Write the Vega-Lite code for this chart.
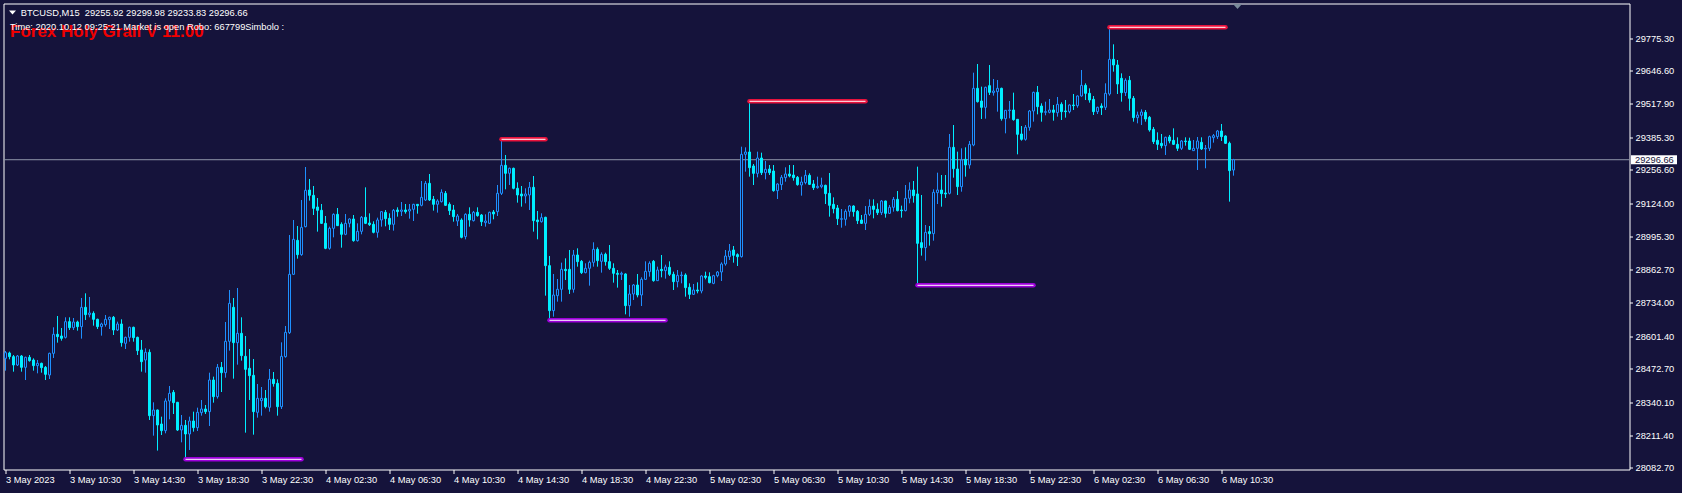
{
"$schema": "https://vega.github.io/schema/vega-lite/v6.json",
"autosize": {"type": "none"},
"padding": {"left": 3.5, "top": 3.5, "right": 52.5, "bottom": 23.5},
"width": 1626,
"height": 466,
"background": "#15133B",
"config": {"view": {"stroke": "#FFFFFF", "strokeWidth": 1, "fill": "#15133B"}, "font": "Liberation Sans", "scale": {"continuousPadding": 0}},
"resolve": {"axis": {"x": "independent", "y": "independent"}},
"datasets": {
"bars": [
{"t":"2023-05-03T06:30Z","o":28513.8,"h":28542.7,"l":28465.1,"c":28536.1},
{"t":"2023-05-03T06:45Z","o":28534.8,"h":28540.0,"l":28509.8,"c":28520.3},
{"t":"2023-05-03T07:00Z","o":28520.3,"h":28526.9,"l":28461.2,"c":28487.5},
{"t":"2023-05-03T07:15Z","o":28487.5,"h":28526.9,"l":28483.5,"c":28522.9},
{"t":"2023-05-03T07:30Z","o":28522.9,"h":28526.9,"l":28461.2,"c":28478.3},
{"t":"2023-05-03T07:45Z","o":28478.3,"h":28520.3,"l":28428.3,"c":28517.7},
{"t":"2023-05-03T08:00Z","o":28517.7,"h":28526.9,"l":28500.6,"c":28504.6},
{"t":"2023-05-03T08:15Z","o":28507.2,"h":28513.7,"l":28465.1,"c":28484.8},
{"t":"2023-05-03T08:30Z","o":28484.8,"h":28507.2,"l":28454.6,"c":28494.0},
{"t":"2023-05-03T08:45Z","o":28494.0,"h":28496.7,"l":28457.2,"c":28477.0},
{"t":"2023-05-03T09:00Z","o":28478.3,"h":28483.5,"l":28428.3,"c":28450.7},
{"t":"2023-05-03T09:15Z","o":28448.0,"h":28536.1,"l":28432.3,"c":28533.5},
{"t":"2023-05-03T09:30Z","o":28533.5,"h":28636.0,"l":28515.1,"c":28608.4},
{"t":"2023-05-03T09:45Z","o":28608.4,"h":28680.6,"l":28575.5,"c":28599.2},
{"t":"2023-05-03T10:00Z","o":28601.8,"h":28633.3,"l":28583.4,"c":28592.6},
{"t":"2023-05-03T10:15Z","o":28596.5,"h":28675.4,"l":28592.0,"c":28658.3},
{"t":"2023-05-03T10:30Z","o":28658.3,"h":28675.4,"l":28625.4,"c":28634.6},
{"t":"2023-05-03T10:45Z","o":28634.6,"h":28672.7,"l":28625.4,"c":28657.0},
{"t":"2023-05-03T11:00Z","o":28657.0,"h":28662.2,"l":28622.8,"c":28638.6},
{"t":"2023-05-03T11:15Z","o":28638.6,"h":28751.6,"l":28591.3,"c":28714.8},
{"t":"2023-05-03T11:30Z","o":28714.8,"h":28770.0,"l":28664.9,"c":28685.9},
{"t":"2023-05-03T11:45Z","o":28685.9,"h":28755.5,"l":28675.4,"c":28692.5},
{"t":"2023-05-03T12:00Z","o":28691.1,"h":28699.0,"l":28642.5,"c":28667.5},
{"t":"2023-05-03T12:15Z","o":28667.5,"h":28670.1,"l":28629.4,"c":28638.6},
{"t":"2023-05-03T12:30Z","o":28638.6,"h":28654.3,"l":28603.1,"c":28649.1},
{"t":"2023-05-03T12:45Z","o":28646.5,"h":28684.6,"l":28638.6,"c":28667.5},
{"t":"2023-05-03T13:00Z","o":28666.2,"h":28678.0,"l":28629.4,"c":28675.4},
{"t":"2023-05-03T13:15Z","o":28675.4,"h":28680.6,"l":28605.7,"c":28625.4},
{"t":"2023-05-03T13:30Z","o":28625.4,"h":28658.3,"l":28621.5,"c":28649.1},
{"t":"2023-05-03T13:45Z","o":28649.1,"h":28667.5,"l":28559.7,"c":28575.5},
{"t":"2023-05-03T14:00Z","o":28572.9,"h":28599.2,"l":28550.5,"c":28596.5},
{"t":"2023-05-03T14:15Z","o":28596.5,"h":28638.6,"l":28579.4,"c":28636.0},
{"t":"2023-05-03T14:30Z","o":28636.0,"h":28638.6,"l":28579.4,"c":28595.2},
{"t":"2023-05-03T14:45Z","o":28596.5,"h":28599.2,"l":28526.9,"c":28544.0},
{"t":"2023-05-03T15:00Z","o":28546.6,"h":28586.0,"l":28461.2,"c":28500.6},
{"t":"2023-05-03T15:15Z","o":28507.2,"h":28553.2,"l":28457.2,"c":28537.4},
{"t":"2023-05-03T15:30Z","o":28537.4,"h":28549.2,"l":28270.7,"c":28287.7},
{"t":"2023-05-03T15:45Z","o":28287.7,"h":28340.3,"l":28208.9,"c":28310.1},
{"t":"2023-05-03T16:00Z","o":28310.1,"h":28312.0,"l":28150.0,"c":28250.9},
{"t":"2023-05-03T16:15Z","o":28254.9,"h":28283.8,"l":28211.5,"c":28228.6},
{"t":"2023-05-03T16:30Z","o":28228.6,"h":28356.1,"l":28218.1,"c":28345.6},
{"t":"2023-05-03T16:45Z","o":28345.6,"h":28404.7,"l":28273.3,"c":28375.8},
{"t":"2023-05-03T17:00Z","o":28379.7,"h":28388.9,"l":28294.3,"c":28339.0},
{"t":"2023-05-03T17:15Z","o":28340.3,"h":28342.0,"l":28227.3,"c":28231.2},
{"t":"2023-05-03T17:30Z","o":28231.2,"h":28290.4,"l":28182.6,"c":28249.6},
{"t":"2023-05-03T17:45Z","o":28249.6,"h":28270.7,"l":28115.7,"c":28215.5},
{"t":"2023-05-03T18:00Z","o":28215.5,"h":28283.8,"l":28152.4,"c":28266.7},
{"t":"2023-05-03T18:15Z","o":28266.7,"h":28303.5,"l":28224.7,"c":28240.4},
{"t":"2023-05-03T18:30Z","o":28240.4,"h":28319.3,"l":28227.3,"c":28300.9},
{"t":"2023-05-03T18:45Z","o":28299.6,"h":28349.5,"l":28287.7,"c":28314.0},
{"t":"2023-05-03T19:00Z","o":28314.0,"h":28329.8,"l":28294.3,"c":28303.5},
{"t":"2023-05-03T19:15Z","o":28303.5,"h":28457.2,"l":28247.0,"c":28428.3},
{"t":"2023-05-03T19:30Z","o":28428.3,"h":28441.5,"l":28339.0,"c":28362.6},
{"t":"2023-05-03T19:45Z","o":28362.6,"h":28491.4,"l":28355.0,"c":28478.3},
{"t":"2023-05-03T20:00Z","o":28478.3,"h":28499.3,"l":28381.0,"c":28457.2},
{"t":"2023-05-03T20:15Z","o":28457.2,"h":28657.0,"l":28437.5,"c":28580.8},
{"t":"2023-05-03T20:30Z","o":28580.8,"h":28783.1,"l":28544.0,"c":28730.6},
{"t":"2023-05-03T20:45Z","o":28714.8,"h":28751.6,"l":28433.6,"c":28575.5},
{"t":"2023-05-03T21:00Z","o":28575.5,"h":28791.0,"l":28488.8,"c":28612.3},
{"t":"2023-05-03T21:15Z","o":28612.3,"h":28675.4,"l":28504.6,"c":28524.3},
{"t":"2023-05-03T21:30Z","o":28521.6,"h":28601.8,"l":28220.7,"c":28470.4},
{"t":"2023-05-03T21:45Z","o":28474.3,"h":28550.5,"l":28349.5,"c":28445.4},
{"t":"2023-05-03T22:00Z","o":28446.7,"h":28511.1,"l":28212.8,"c":28303.5},
{"t":"2023-05-03T22:15Z","o":28300.9,"h":28412.6,"l":28279.9,"c":28356.1},
{"t":"2023-05-03T22:30Z","o":28346.9,"h":28400.7,"l":28287.7,"c":28356.1},
{"t":"2023-05-03T22:45Z","o":28356.1,"h":28388.9,"l":28316.6,"c":28323.2},
{"t":"2023-05-03T23:00Z","o":28320.6,"h":28471.7,"l":28303.5,"c":28431.0},
{"t":"2023-05-03T23:15Z","o":28431.0,"h":28459.9,"l":28402.1,"c":28413.9},
{"t":"2023-05-03T23:30Z","o":28415.2,"h":28431.0,"l":28287.7,"c":28323.2},
{"t":"2023-05-03T23:45Z","o":28323.2,"h":28576.8,"l":28314.0,"c":28521.6},
{"t":"2023-05-04T00:00Z","o":28520.3,"h":28641.2,"l":28516.4,"c":28616.2},
{"t":"2023-05-04T00:15Z","o":28614.9,"h":28999.9,"l":28609.7,"c":28844.9},
{"t":"2023-05-04T00:30Z","o":28844.9,"h":29059.1,"l":28843.6,"c":28982.8},
{"t":"2023-05-04T00:45Z","o":28978.9,"h":29035.4,"l":28906.6,"c":28922.4},
{"t":"2023-05-04T01:00Z","o":28922.4,"h":29137.9,"l":28918.0,"c":29030.1},
{"t":"2023-05-04T01:15Z","o":29032.8,"h":29268.0,"l":29030.0,"c":29176.0},
{"t":"2023-05-04T01:30Z","o":29177.3,"h":29220.7,"l":29135.3,"c":29156.3},
{"t":"2023-05-04T01:45Z","o":29156.3,"h":29193.1,"l":29078.8,"c":29105.0},
{"t":"2023-05-04T02:00Z","o":29110.3,"h":29145.8,"l":29013.1,"c":29097.2},
{"t":"2023-05-04T02:15Z","o":29097.2,"h":29122.1,"l":29043.3,"c":29045.9},
{"t":"2023-05-04T02:30Z","o":29045.9,"h":29074.8,"l":28944.0,"c":28947.4},
{"t":"2023-05-04T02:45Z","o":28947.4,"h":29032.8,"l":28942.1,"c":29026.2},
{"t":"2023-05-04T03:00Z","o":29026.2,"h":29085.3,"l":28990.7,"c":29081.4},
{"t":"2023-05-04T03:15Z","o":29081.4,"h":29106.4,"l":29035.4,"c":29036.7},
{"t":"2023-05-04T03:30Z","o":29042.0,"h":29049.9,"l":28950.0,"c":29002.6},
{"t":"2023-05-04T03:45Z","o":29002.6,"h":29082.7,"l":28999.0,"c":29045.9},
{"t":"2023-05-04T04:00Z","o":29045.9,"h":29065.6,"l":29030.1,"c":29063.0},
{"t":"2023-05-04T04:15Z","o":29063.0,"h":29078.8,"l":28973.6,"c":28977.6},
{"t":"2023-05-04T04:30Z","o":28977.6,"h":29045.9,"l":28974.0,"c":29014.4},
{"t":"2023-05-04T04:45Z","o":29014.4,"h":29074.8,"l":29002.6,"c":29069.6},
{"t":"2023-05-04T05:00Z","o":29069.6,"h":29187.8,"l":29043.0,"c":29045.9},
{"t":"2023-05-04T05:15Z","o":29047.2,"h":29085.3,"l":29035.4,"c":29040.7},
{"t":"2023-05-04T05:30Z","o":29042.0,"h":29053.8,"l":29006.5,"c":29010.4},
{"t":"2023-05-04T05:45Z","o":29010.4,"h":29068.3,"l":28989.4,"c":29059.1},
{"t":"2023-05-04T06:00Z","o":29059.1,"h":29094.5,"l":29032.8,"c":29091.9},
{"t":"2023-05-04T06:15Z","o":29089.3,"h":29098.5,"l":29034.1,"c":29064.3},
{"t":"2023-05-04T06:30Z","o":29065.6,"h":29085.3,"l":29019.6,"c":29042.0},
{"t":"2023-05-04T06:45Z","o":29042.0,"h":29102.4,"l":29017.0,"c":29097.2},
{"t":"2023-05-04T07:00Z","o":29098.5,"h":29109.0,"l":29072.2,"c":29091.9},
{"t":"2023-05-04T07:15Z","o":29093.2,"h":29130.0,"l":29074.8,"c":29098.5},
{"t":"2023-05-04T07:30Z","o":29098.5,"h":29122.1,"l":29084.0,"c":29091.9},
{"t":"2023-05-04T07:45Z","o":29094.5,"h":29122.1,"l":29064.3,"c":29101.1},
{"t":"2023-05-04T08:00Z","o":29101.1,"h":29123.0,"l":29055.1,"c":29120.8},
{"t":"2023-05-04T08:15Z","o":29120.8,"h":29122.1,"l":29084.0,"c":29115.6},
{"t":"2023-05-04T08:30Z","o":29116.9,"h":29212.8,"l":29113.0,"c":29148.4},
{"t":"2023-05-04T08:45Z","o":29137.9,"h":29212.8,"l":29134.0,"c":29203.6},
{"t":"2023-05-04T09:00Z","o":29203.6,"h":29240.4,"l":29134.0,"c":29137.9},
{"t":"2023-05-04T09:15Z","o":29140.6,"h":29153.7,"l":29095.9,"c":29120.9},
{"t":"2023-05-04T09:30Z","o":29120.9,"h":29140.6,"l":29088.0,"c":29134.0},
{"t":"2023-05-04T09:45Z","o":29131.4,"h":29180.0,"l":29128.0,"c":29168.2},
{"t":"2023-05-04T10:00Z","o":29164.2,"h":29173.4,"l":29114.3,"c":29116.9},
{"t":"2023-05-04T10:15Z","o":29120.9,"h":29128.7,"l":29078.8,"c":29095.9},
{"t":"2023-05-04T10:30Z","o":29098.5,"h":29118.2,"l":29052.5,"c":29072.2},
{"t":"2023-05-04T10:45Z","o":29055.2,"h":29082.8,"l":29035.4,"c":29074.9},
{"t":"2023-05-04T11:00Z","o":29059.1,"h":29065.7,"l":28986.8,"c":28990.8},
{"t":"2023-05-04T11:15Z","o":28993.4,"h":29085.4,"l":28982.9,"c":29081.4},
{"t":"2023-05-04T11:30Z","o":29081.4,"h":29109.0,"l":29032.8,"c":29059.1},
{"t":"2023-05-04T11:45Z","o":29056.5,"h":29094.6,"l":29053.0,"c":29089.3},
{"t":"2023-05-04T12:00Z","o":29089.3,"h":29109.0,"l":29072.2,"c":29076.2},
{"t":"2023-05-04T12:15Z","o":29078.8,"h":29082.8,"l":29035.4,"c":29052.5},
{"t":"2023-05-04T12:30Z","o":29048.6,"h":29081.4,"l":29032.8,"c":29055.2},
{"t":"2023-05-04T12:45Z","o":29046.0,"h":29092.0,"l":29043.0,"c":29089.3},
{"t":"2023-05-04T13:00Z","o":29090.6,"h":29098.5,"l":29061.7,"c":29082.8},
{"t":"2023-05-04T13:15Z","o":29091.9,"h":29197.1,"l":29074.9,"c":29164.2},
{"t":"2023-05-04T13:30Z","o":29164.2,"h":29377.2,"l":29157.6,"c":29274.6},
{"t":"2023-05-04T13:45Z","o":29274.6,"h":29315.3,"l":29180.0,"c":29243.1},
{"t":"2023-05-04T14:00Z","o":29243.1,"h":29265.4,"l":29197.1,"c":29262.8},
{"t":"2023-05-04T14:15Z","o":29262.8,"h":29265.4,"l":29180.0,"c":29183.9},
{"t":"2023-05-04T14:30Z","o":29183.9,"h":29207.6,"l":29127.4,"c":29157.6},
{"t":"2023-05-04T14:45Z","o":29161.6,"h":29193.1,"l":29111.7,"c":29153.7},
{"t":"2023-05-04T15:00Z","o":29153.7,"h":29183.9,"l":29124.8,"c":29161.6},
{"t":"2023-05-04T15:15Z","o":29157.6,"h":29208.9,"l":29098.5,"c":29187.9},
{"t":"2023-05-04T15:30Z","o":29187.9,"h":29232.5,"l":29013.1,"c":29056.5},
{"t":"2023-05-04T15:45Z","o":29059.1,"h":29094.6,"l":28982.9,"c":29052.5},
{"t":"2023-05-04T16:00Z","o":29052.5,"h":29085.4,"l":29048.6,"c":29068.3},
{"t":"2023-05-04T16:15Z","o":29069.6,"h":29072.0,"l":28760.8,"c":28879.1},
{"t":"2023-05-04T16:30Z","o":28879.1,"h":28917.2,"l":28663.7,"c":28701.7},
{"t":"2023-05-04T16:45Z","o":28701.7,"h":28846.2,"l":28678.0,"c":28763.4},
{"t":"2023-05-04T17:00Z","o":28760.8,"h":28826.5,"l":28737.2,"c":28785.8},
{"t":"2023-05-04T17:15Z","o":28785.8,"h":28890.9,"l":28737.2,"c":28864.6},
{"t":"2023-05-04T17:30Z","o":28864.6,"h":28908.0,"l":28822.6,"c":28859.4},
{"t":"2023-05-04T17:45Z","o":28864.6,"h":28940.8,"l":28767.4,"c":28785.8},
{"t":"2023-05-04T18:00Z","o":28785.8,"h":28940.8,"l":28772.6,"c":28921.1},
{"t":"2023-05-04T18:15Z","o":28921.1,"h":28947.4,"l":28875.1,"c":28894.8},
{"t":"2023-05-04T18:30Z","o":28896.2,"h":28901.4,"l":28846.2,"c":28851.5},
{"t":"2023-05-04T18:45Z","o":28851.5,"h":28888.3,"l":28848.9,"c":28868.6},
{"t":"2023-05-04T19:00Z","o":28868.6,"h":28898.8,"l":28800.2,"c":28892.2},
{"t":"2023-05-04T19:15Z","o":28892.2,"h":28971.1,"l":28875.1,"c":28943.5},
{"t":"2023-05-04T19:30Z","o":28943.5,"h":28951.3,"l":28875.1,"c":28898.8},
{"t":"2023-05-04T19:45Z","o":28896.2,"h":28931.6,"l":28851.5,"c":28923.8},
{"t":"2023-05-04T20:00Z","o":28923.8,"h":28930.3,"l":28879.1,"c":28894.8},
{"t":"2023-05-04T20:15Z","o":28894.8,"h":28960.5,"l":28862.0,"c":28868.6},
{"t":"2023-05-04T20:30Z","o":28868.6,"h":28888.3,"l":28812.1,"c":28848.9},
{"t":"2023-05-04T20:45Z","o":28848.9,"h":28862.0,"l":28792.4,"c":28844.9},
{"t":"2023-05-04T21:00Z","o":28844.9,"h":28855.4,"l":28822.6,"c":28848.9},
{"t":"2023-05-04T21:15Z","o":28846.2,"h":28848.9,"l":28687.2,"c":28721.4},
{"t":"2023-05-04T21:30Z","o":28721.4,"h":28802.9,"l":28678.0,"c":28767.4},
{"t":"2023-05-04T21:45Z","o":28767.4,"h":28806.8,"l":28743.7,"c":28802.9},
{"t":"2023-05-04T22:00Z","o":28802.8,"h":28846.2,"l":28754.2,"c":28763.4},
{"t":"2023-05-04T22:15Z","o":28763.4,"h":28833.0,"l":28720.0,"c":28825.1},
{"t":"2023-05-04T22:30Z","o":28825.1,"h":28896.1,"l":28822.5,"c":28856.7},
{"t":"2023-05-04T22:45Z","o":28855.4,"h":28896.1,"l":28835.7,"c":28888.2},
{"t":"2023-05-04T23:00Z","o":28896.1,"h":28901.4,"l":28815.9,"c":28819.9},
{"t":"2023-05-04T23:15Z","o":28819.9,"h":28875.1,"l":28818.6,"c":28861.9},
{"t":"2023-05-04T23:30Z","o":28864.6,"h":28921.1,"l":28833.0,"c":28859.3},
{"t":"2023-05-04T23:45Z","o":28859.3,"h":28883.0,"l":28827.8,"c":28873.8},
{"t":"2023-05-05T00:00Z","o":28872.5,"h":28896.1,"l":28838.3,"c":28844.9},
{"t":"2023-05-05T00:15Z","o":28844.9,"h":28855.4,"l":28783.1,"c":28815.9},
{"t":"2023-05-05T00:30Z","o":28815.9,"h":28861.9,"l":28793.6,"c":28840.9},
{"t":"2023-05-05T00:45Z","o":28839.6,"h":28855.4,"l":28809.4,"c":28842.2},
{"t":"2023-05-05T01:00Z","o":28842.2,"h":28848.8,"l":28756.8,"c":28792.3},
{"t":"2023-05-05T01:15Z","o":28793.6,"h":28809.4,"l":28747.6,"c":28766.0},
{"t":"2023-05-05T01:30Z","o":28766.0,"h":28806.8,"l":28763.4,"c":28783.1},
{"t":"2023-05-05T01:45Z","o":28783.1,"h":28813.3,"l":28770.0,"c":28779.2},
{"t":"2023-05-05T02:00Z","o":28779.2,"h":28840.9,"l":28770.0,"c":28838.3},
{"t":"2023-05-05T02:15Z","o":28838.3,"h":28855.4,"l":28825.1,"c":28833.0},
{"t":"2023-05-05T02:30Z","o":28835.7,"h":28852.7,"l":28809.4,"c":28812.0},
{"t":"2023-05-05T02:45Z","o":28809.4,"h":28843.0,"l":28806.0,"c":28839.6},
{"t":"2023-05-05T03:00Z","o":28839.6,"h":28858.0,"l":28833.0,"c":28854.1},
{"t":"2023-05-05T03:15Z","o":28854.1,"h":28892.2,"l":28818.6,"c":28885.6},
{"t":"2023-05-05T03:30Z","o":28885.6,"h":28940.8,"l":28879.0,"c":28917.1},
{"t":"2023-05-05T03:45Z","o":28914.5,"h":28964.4,"l":28901.4,"c":28936.8},
{"t":"2023-05-05T04:00Z","o":28940.8,"h":28956.5,"l":28890.8,"c":28919.8},
{"t":"2023-05-05T04:15Z","o":28922.4,"h":28927.6,"l":28877.7,"c":28914.5},
{"t":"2023-05-05T04:30Z","o":28914.5,"h":29348.1,"l":28911.0,"c":29317.9},
{"t":"2023-05-05T04:45Z","o":29317.9,"h":29345.5,"l":29249.6,"c":29327.1},
{"t":"2023-05-05T05:00Z","o":29327.1,"h":29527.0,"l":29229.9,"c":29265.3},
{"t":"2023-05-05T05:15Z","o":29271.9,"h":29279.8,"l":29197.0,"c":29243.0},
{"t":"2023-05-05T05:30Z","o":29243.0,"h":29328.4,"l":29227.2,"c":29303.4},
{"t":"2023-05-05T05:45Z","o":29303.4,"h":29324.5,"l":29236.4,"c":29245.6},
{"t":"2023-05-05T06:00Z","o":29245.6,"h":29291.6,"l":29219.3,"c":29258.8},
{"t":"2023-05-05T06:15Z","o":29260.1,"h":29275.8,"l":29236.4,"c":29245.6},
{"t":"2023-05-05T06:30Z","o":29252.2,"h":29275.8,"l":29170.7,"c":29174.7},
{"t":"2023-05-05T06:45Z","o":29174.7,"h":29203.6,"l":29141.8,"c":29201.0},
{"t":"2023-05-05T07:00Z","o":29198.3,"h":29236.4,"l":29177.3,"c":29227.2},
{"t":"2023-05-05T07:15Z","o":29225.9,"h":29266.7,"l":29210.1,"c":29240.4},
{"t":"2023-05-05T07:30Z","o":29240.4,"h":29275.8,"l":29227.2,"c":29232.5},
{"t":"2023-05-05T07:45Z","o":29236.4,"h":29275.8,"l":29214.1,"c":29225.9},
{"t":"2023-05-05T08:00Z","o":29227.2,"h":29232.5,"l":29194.4,"c":29198.3},
{"t":"2023-05-05T08:15Z","o":29197.0,"h":29229.9,"l":29155.0,"c":29208.8},
{"t":"2023-05-05T08:30Z","o":29206.2,"h":29256.1,"l":29199.6,"c":29235.1},
{"t":"2023-05-05T08:45Z","o":29235.1,"h":29243.0,"l":29197.0,"c":29199.6},
{"t":"2023-05-05T09:00Z","o":29201.0,"h":29216.7,"l":29177.3,"c":29186.5},
{"t":"2023-05-05T09:15Z","o":29186.5,"h":29229.9,"l":29182.6,"c":29191.8},
{"t":"2023-05-05T09:30Z","o":29190.4,"h":29225.9,"l":29183.9,"c":29197.0},
{"t":"2023-05-05T09:45Z","o":29195.7,"h":29198.3,"l":29122.1,"c":29162.8},
{"t":"2023-05-05T10:00Z","o":29164.2,"h":29244.3,"l":29072.2,"c":29116.9},
{"t":"2023-05-05T10:15Z","o":29120.8,"h":29148.4,"l":29085.3,"c":29103.7},
{"t":"2023-05-05T10:30Z","o":29106.3,"h":29118.2,"l":29039.3,"c":29064.3},
{"t":"2023-05-05T10:45Z","o":29061.7,"h":29102.4,"l":29028.8,"c":29064.3},
{"t":"2023-05-05T11:00Z","o":29061.7,"h":29101.1,"l":29036.7,"c":29093.2},
{"t":"2023-05-05T11:15Z","o":29093.2,"h":29118.2,"l":29072.2,"c":29114.2},
{"t":"2023-05-05T11:30Z","o":29114.2,"h":29117.0,"l":29072.2,"c":29091.9},
{"t":"2023-05-05T11:45Z","o":29093.2,"h":29098.5,"l":29043.3,"c":29056.4},
{"t":"2023-05-05T12:00Z","o":29059.1,"h":29078.8,"l":29043.3,"c":29045.9},
{"t":"2023-05-05T12:15Z","o":29045.9,"h":29114.2,"l":29019.6,"c":29081.4},
{"t":"2023-05-05T12:30Z","o":29081.4,"h":29140.5,"l":29074.8,"c":29112.9},
{"t":"2023-05-05T12:45Z","o":29114.2,"h":29140.5,"l":29065.6,"c":29101.1},
{"t":"2023-05-05T13:00Z","o":29101.1,"h":29124.8,"l":29078.8,"c":29088.0},
{"t":"2023-05-05T13:15Z","o":29088.0,"h":29137.9,"l":29078.8,"c":29134.0},
{"t":"2023-05-05T13:30Z","o":29134.0,"h":29135.3,"l":29068.3,"c":29085.3},
{"t":"2023-05-05T13:45Z","o":29085.3,"h":29118.2,"l":29082.7,"c":29109.0},
{"t":"2023-05-05T14:00Z","o":29109.0,"h":29149.7,"l":29091.9,"c":29140.5},
{"t":"2023-05-05T14:15Z","o":29140.5,"h":29173.4,"l":29093.0,"c":29095.9},
{"t":"2023-05-05T14:30Z","o":29098.5,"h":29115.6,"l":29068.3,"c":29095.9},
{"t":"2023-05-05T14:45Z","o":29095.9,"h":29197.0,"l":29093.0,"c":29144.5},
{"t":"2023-05-05T15:00Z","o":29144.5,"h":29207.5,"l":29124.8,"c":29177.3},
{"t":"2023-05-05T15:15Z","o":29177.3,"h":29212.8,"l":29127.4,"c":29155.0},
{"t":"2023-05-05T15:30Z","o":29161.6,"h":29269.3,"l":28801.6,"c":28967.1},
{"t":"2023-05-05T15:45Z","o":28969.7,"h":29157.6,"l":28918.5,"c":28950.0},
{"t":"2023-05-05T16:00Z","o":28950.0,"h":29039.3,"l":28898.8,"c":29010.4},
{"t":"2023-05-05T16:15Z","o":29013.1,"h":29035.4,"l":28957.9,"c":29005.2},
{"t":"2023-05-05T16:30Z","o":29005.2,"h":29179.9,"l":28977.6,"c":29168.1},
{"t":"2023-05-05T16:45Z","o":29166.8,"h":29245.6,"l":29122.1,"c":29177.3},
{"t":"2023-05-05T17:00Z","o":29177.3,"h":29236.4,"l":29111.6,"c":29162.9},
{"t":"2023-05-05T17:15Z","o":29165.5,"h":29236.4,"l":29145.8,"c":29161.6},
{"t":"2023-05-05T17:30Z","o":29164.2,"h":29398.1,"l":29160.0,"c":29345.5},
{"t":"2023-05-05T17:45Z","o":29345.5,"h":29433.5,"l":29225.9,"c":29261.4},
{"t":"2023-05-05T18:00Z","o":29260.1,"h":29328.4,"l":29157.6,"c":29190.5},
{"t":"2023-05-05T18:15Z","o":29190.5,"h":29341.6,"l":29170.7,"c":29295.6},
{"t":"2023-05-05T18:30Z","o":29298.2,"h":29345.5,"l":29229.9,"c":29275.9},
{"t":"2023-05-05T18:45Z","o":29275.9,"h":29370.5,"l":29261.4,"c":29357.3},
{"t":"2023-05-05T19:00Z","o":29354.7,"h":29639.8,"l":29350.0,"c":29578.1},
{"t":"2023-05-05T19:15Z","o":29578.1,"h":29674.0,"l":29522.0,"c":29525.5},
{"t":"2023-05-05T19:30Z","o":29528.2,"h":29584.7,"l":29457.2,"c":29503.2},
{"t":"2023-05-05T19:45Z","o":29503.2,"h":29584.7,"l":29458.5,"c":29582.0},
{"t":"2023-05-05T20:00Z","o":29588.6,"h":29670.1,"l":29551.8,"c":29562.3},
{"t":"2023-05-05T20:15Z","o":29561.0,"h":29614.9,"l":29549.2,"c":29567.6},
{"t":"2023-05-05T20:30Z","o":29564.9,"h":29610.9,"l":29486.1,"c":29578.1},
{"t":"2023-05-05T20:45Z","o":29578.1,"h":29580.7,"l":29450.6,"c":29458.5},
{"t":"2023-05-05T21:00Z","o":29458.5,"h":29492.7,"l":29400.7,"c":29491.4},
{"t":"2023-05-05T21:15Z","o":29490.1,"h":29528.2,"l":29459.8,"c":29492.7},
{"t":"2023-05-05T21:30Z","o":29492.7,"h":29561.0,"l":29450.6,"c":29454.6},
{"t":"2023-05-05T21:45Z","o":29455.9,"h":29457.2,"l":29317.9,"c":29396.8},
{"t":"2023-05-05T22:00Z","o":29398.1,"h":29429.6,"l":29371.8,"c":29377.0},
{"t":"2023-05-05T22:15Z","o":29377.0,"h":29433.5,"l":29371.8,"c":29424.4},
{"t":"2023-05-05T22:30Z","o":29424.4,"h":29492.7,"l":29411.2,"c":29488.7},
{"t":"2023-05-05T22:45Z","o":29488.7,"h":29564.9,"l":29446.7,"c":29562.3},
{"t":"2023-05-05T23:00Z","o":29562.3,"h":29587.3,"l":29475.6,"c":29505.8},
{"t":"2023-05-05T23:15Z","o":29508.4,"h":29519.0,"l":29446.7,"c":29483.5},
{"t":"2023-05-05T23:30Z","o":29483.5,"h":29525.5,"l":29471.7,"c":29486.1},
{"t":"2023-05-05T23:45Z","o":29483.5,"h":29536.0,"l":29479.5,"c":29492.7},
{"t":"2023-05-06T00:00Z","o":29492.7,"h":29512.4,"l":29450.6,"c":29483.5},
{"t":"2023-05-06T00:15Z","o":29482.2,"h":29544.0,"l":29466.4,"c":29515.0},
{"t":"2023-05-06T00:30Z","o":29515.0,"h":29522.9,"l":29453.3,"c":29486.1},
{"t":"2023-05-06T00:45Z","o":29488.8,"h":29532.1,"l":29462.5,"c":29486.1},
{"t":"2023-05-06T01:00Z","o":29486.1,"h":29515.0,"l":29479.6,"c":29512.4},
{"t":"2023-05-06T01:15Z","o":29512.4,"h":29555.8,"l":29492.7,"c":29509.8},
{"t":"2023-05-06T01:30Z","o":29509.8,"h":29550.0,"l":29501.9,"c":29547.9},
{"t":"2023-05-06T01:45Z","o":29547.9,"h":29650.4,"l":29545.3,"c":29589.9},
{"t":"2023-05-06T02:00Z","o":29589.9,"h":29597.8,"l":29532.1,"c":29558.4},
{"t":"2023-05-06T02:15Z","o":29558.4,"h":29578.1,"l":29521.6,"c":29532.1},
{"t":"2023-05-06T02:30Z","o":29534.8,"h":29547.9,"l":29473.0,"c":29486.1},
{"t":"2023-05-06T02:45Z","o":29486.1,"h":29505.8,"l":29476.9,"c":29503.2},
{"t":"2023-05-06T03:00Z","o":29508.5,"h":29519.0,"l":29473.0,"c":29501.9},
{"t":"2023-05-06T03:15Z","o":29503.2,"h":29597.8,"l":29492.7,"c":29558.4},
{"t":"2023-05-06T03:30Z","o":29555.8,"h":29818.7,"l":29549.2,"c":29692.4},
{"t":"2023-05-06T03:45Z","o":29692.4,"h":29751.6,"l":29643.8,"c":29670.1},
{"t":"2023-05-06T04:00Z","o":29670.1,"h":29689.8,"l":29555.8,"c":29595.2},
{"t":"2023-05-06T04:15Z","o":29617.5,"h":29637.2,"l":29525.6,"c":29561.0},
{"t":"2023-05-06T04:30Z","o":29561.0,"h":29617.5,"l":29547.9,"c":29609.7},
{"t":"2023-05-06T04:45Z","o":29609.7,"h":29626.7,"l":29490.1,"c":29538.7},
{"t":"2023-05-06T05:00Z","o":29538.7,"h":29547.9,"l":29446.7,"c":29462.5},
{"t":"2023-05-06T05:15Z","o":29462.5,"h":29486.1,"l":29440.1,"c":29473.0},
{"t":"2023-05-06T05:30Z","o":29471.7,"h":29495.3,"l":29433.6,"c":29484.8},
{"t":"2023-05-06T05:45Z","o":29483.5,"h":29492.7,"l":29446.7,"c":29457.2},
{"t":"2023-05-06T06:00Z","o":29463.8,"h":29469.1,"l":29407.3,"c":29413.9},
{"t":"2023-05-06T06:15Z","o":29416.5,"h":29425.7,"l":29358.7,"c":29367.9},
{"t":"2023-05-06T06:30Z","o":29373.1,"h":29404.7,"l":29335.0,"c":29357.4},
{"t":"2023-05-06T06:45Z","o":29361.3,"h":29398.1,"l":29341.6,"c":29352.1},
{"t":"2023-05-06T07:00Z","o":29352.1,"h":29387.6,"l":29315.3,"c":29385.0},
{"t":"2023-05-06T07:15Z","o":29386.3,"h":29394.2,"l":29361.3,"c":29370.5},
{"t":"2023-05-06T07:30Z","o":29373.1,"h":29420.4,"l":29354.7,"c":29357.4},
{"t":"2023-05-06T07:45Z","o":29357.4,"h":29385.0,"l":29331.1,"c":29341.6},
{"t":"2023-05-06T08:00Z","o":29341.6,"h":29374.4,"l":29335.0,"c":29370.5},
{"t":"2023-05-06T08:15Z","o":29370.5,"h":29385.0,"l":29352.1,"c":29367.9},
{"t":"2023-05-06T08:30Z","o":29370.5,"h":29383.6,"l":29335.0,"c":29337.7},
{"t":"2023-05-06T08:45Z","o":29332.4,"h":29374.4,"l":29331.1,"c":29341.6},
{"t":"2023-05-06T09:00Z","o":29341.6,"h":29386.3,"l":29256.2,"c":29370.5},
{"t":"2023-05-06T09:15Z","o":29365.2,"h":29385.0,"l":29335.0,"c":29339.0},
{"t":"2023-05-06T09:30Z","o":29339.0,"h":29354.7,"l":29262.8,"c":29341.6},
{"t":"2023-05-06T09:45Z","o":29341.6,"h":29391.5,"l":29331.1,"c":29387.6},
{"t":"2023-05-06T10:00Z","o":29383.6,"h":29398.1,"l":29363.9,"c":29391.5},
{"t":"2023-05-06T10:15Z","o":29387.6,"h":29413.9,"l":29378.4,"c":29409.9},
{"t":"2023-05-06T10:30Z","o":29409.9,"h":29437.5,"l":29370.5,"c":29387.6},
{"t":"2023-05-06T10:45Z","o":29390.2,"h":29393.0,"l":29358.7,"c":29361.3},
{"t":"2023-05-06T11:00Z","o":29361.3,"h":29367.9,"l":29131.4,"c":29253.6},
{"t":"2023-05-06T11:15Z","o":29255.92,"h":29299.98,"l":29233.83,"c":29296.66}
],
"levels": [
{"a":"2023-05-04T13:30Z","b":"2023-05-04T16:15Z","p":29377.2,"k":"res"},
{"a":"2023-05-05T05:00Z","b":"2023-05-05T12:15Z","p":29527.0,"k":"res"},
{"a":"2023-05-06T03:30Z","b":"2023-05-06T10:45Z","p":29818.7,"k":"res"},
{"a":"2023-05-03T17:45Z","b":"2023-05-04T01:00Z","p":28115.7,"k":"sup"},
{"a":"2023-05-04T16:30Z","b":"2023-05-04T23:45Z","p":28663.7,"k":"sup"},
{"a":"2023-05-05T15:30Z","b":"2023-05-05T22:45Z","p":28801.6,"k":"sup"}
]
},
"layer": [
{
"data": {"values": [{}]},
"mark": {"type": "rule", "color": "#9096AA", "strokeWidth": 1},
"encoding": {"y": {"datum": 29296.66, "type": "quantitative", "axis": null}}
},
{
"data": {"name": "bars"},
"mark": {"type": "rule", "strokeWidth": 1},
"encoding": {
"x": {"field": "t", "type": "temporal",
"scale": {"type": "utc", "padding": 0, "nice": false, "domain": [{"year": 2023, "month": 5, "date": 3, "hours": 6, "minutes": 22, "seconds": 30, "utc": true}, {"year": 2023, "month": 5, "date": 7, "hours": 12, "minutes": 0, "utc": true}]},
"axis": {"title": null, "grid": false, "domain": false, "tickColor": "#FFFFFF", "tickSize": 4, "labelColor": "#FFFFFF", "labelFont": "Liberation Sans", "labelFontSize": 9.3, "labelAlign": "left", "labelDx": 0, "labelPadding": 2, "labelOverlap": false, "labelFlush": false, "labelBound": false,
"values": [
{"year": 2023, "month": 5, "date": 3, "hours": 6, "minutes": 30, "utc": true},
{"year": 2023, "month": 5, "date": 3, "hours": 10, "minutes": 30, "utc": true},
{"year": 2023, "month": 5, "date": 3, "hours": 14, "minutes": 30, "utc": true},
{"year": 2023, "month": 5, "date": 3, "hours": 18, "minutes": 30, "utc": true},
{"year": 2023, "month": 5, "date": 3, "hours": 22, "minutes": 30, "utc": true},
{"year": 2023, "month": 5, "date": 4, "hours": 2, "minutes": 30, "utc": true},
{"year": 2023, "month": 5, "date": 4, "hours": 6, "minutes": 30, "utc": true},
{"year": 2023, "month": 5, "date": 4, "hours": 10, "minutes": 30, "utc": true},
{"year": 2023, "month": 5, "date": 4, "hours": 14, "minutes": 30, "utc": true},
{"year": 2023, "month": 5, "date": 4, "hours": 18, "minutes": 30, "utc": true},
{"year": 2023, "month": 5, "date": 4, "hours": 22, "minutes": 30, "utc": true},
{"year": 2023, "month": 5, "date": 5, "hours": 2, "minutes": 30, "utc": true},
{"year": 2023, "month": 5, "date": 5, "hours": 6, "minutes": 30, "utc": true},
{"year": 2023, "month": 5, "date": 5, "hours": 10, "minutes": 30, "utc": true},
{"year": 2023, "month": 5, "date": 5, "hours": 14, "minutes": 30, "utc": true},
{"year": 2023, "month": 5, "date": 5, "hours": 18, "minutes": 30, "utc": true},
{"year": 2023, "month": 5, "date": 5, "hours": 22, "minutes": 30, "utc": true},
{"year": 2023, "month": 5, "date": 6, "hours": 2, "minutes": 30, "utc": true},
{"year": 2023, "month": 5, "date": 6, "hours": 6, "minutes": 30, "utc": true},
{"year": 2023, "month": 5, "date": 6, "hours": 10, "minutes": 30, "utc": true}
],
"labelExpr": "utcFormat(datum.value, '%d %H:%M') == '03 06:30' ? utcFormat(datum.value, '%-d %b %Y') : utcFormat(datum.value, '%-d %b %H:%M')"}},
"y": {"field": "l", "type": "quantitative",
"scale": {"domain": [28075.5, 29912.5], "nice": false, "zero": false, "padding": 0},
"axis": {"orient": "right", "title": null, "grid": false, "domain": false, "tickColor": "#FFFFFF", "tickSize": 3, "labelColor": "#FFFFFF", "labelFont": "Liberation Sans", "labelFontSize": 9.3, "labelPadding": 2.5, "labelOverlap": false, "labelFlush": false, "labelBound": false, "format": ".2f",
"values": [28082.7, 28211.4, 28340.1, 28472.7, 28601.4, 28734.0, 28862.7, 28995.3, 29124.0, 29256.6, 29385.3, 29517.9, 29646.6, 29775.3]}},
"y2": {"field": "h"},
"color": {"condition": {"test": "datum.c >= datum.o", "value": "#1E90FF"}, "value": "#00EEFF"}
}
},
{
"data": {"name": "bars"},
"mark": {"type": "bar", "size": 2, "strokeWidth": 1},
"encoding": {
"x": {"field": "t", "type": "temporal", "axis": null},
"y": {"field": "o", "type": "quantitative", "axis": null},
"y2": {"field": "c"},
"fill": {"condition": {"test": "datum.c >= datum.o", "value": "#15133B"}, "value": "#00EEFF"},
"stroke": {"condition": {"test": "datum.c >= datum.o", "value": "#1E90FF"}, "value": "#00EEFF"}
}
},
{
"data": {"name": "levels"},
"mark": {"type": "rule", "strokeWidth": 4.5, "strokeCap": "round"},
"encoding": {
"x": {"field": "a", "type": "temporal", "axis": null},
"x2": {"field": "b"},
"y": {"field": "p", "type": "quantitative", "axis": null},
"color": {"field": "k", "type": "nominal", "scale": {"domain": ["res", "sup"], "range": ["#E8123C", "#9B00D8"]}, "legend": null}
}
},
{
"data": {"name": "levels"},
"mark": {"type": "rule", "strokeWidth": 1, "color": "#FFFFFF"},
"encoding": {
"x": {"field": "a", "type": "temporal", "axis": null},
"x2": {"field": "b"},
"y": {"field": "p", "type": "quantitative", "axis": null}
}
},
{
"data": {"values": [{}]},
"mark": {"type": "text", "text": "Forex Holy Grail V 11.00", "color": "#F00000", "font": "Liberation Sans", "fontWeight": "bold", "fontSize": 17, "align": "left", "baseline": "alphabetic", "dx": 6.5, "dy": 33.8},
"encoding": {
"x": {"datum": {"year": 2023, "month": 5, "date": 3, "hours": 6, "minutes": 22, "seconds": 30, "utc": true}, "type": "temporal", "axis": null},
"y": {"datum": 29912.5, "type": "quantitative", "axis": null}
}
},
{
"data": {"values": [{}]},
"mark": {"type": "text", "text": "BTCUSD,M15\u00a0 29255.92 29299.98 29233.83 29296.66", "color": "#FFFFFF", "font": "Liberation Sans", "fontSize": 9.3, "align": "left", "baseline": "alphabetic", "dx": 17.2, "dy": 12.5},
"encoding": {
"x": {"datum": {"year": 2023, "month": 5, "date": 3, "hours": 6, "minutes": 22, "seconds": 30, "utc": true}, "type": "temporal", "axis": null},
"y": {"datum": 29912.5, "type": "quantitative", "axis": null}
}
},
{
"data": {"values": [{}]},
"mark": {"type": "point", "shape": "M-1,-0.55L1,-0.55L0,0.55Z", "size": 49, "filled": true, "color": "#FFFFFF", "opacity": 1, "xOffset": 9, "yOffset": 9},
"encoding": {
"x": {"datum": {"year": 2023, "month": 5, "date": 3, "hours": 6, "minutes": 22, "seconds": 30, "utc": true}, "type": "temporal", "axis": null},
"y": {"datum": 29912.5, "type": "quantitative", "axis": null}
}
},
{
"data": {"values": [{}]},
"mark": {"type": "text", "text": "Time: 2020.10.12 09:25:21 Market is open Robo: 667799Simbolo :", "color": "#FFFFFF", "font": "Liberation Sans", "fontSize": 9.3, "align": "left", "baseline": "alphabetic", "dx": 6.5, "dy": 26},
"encoding": {
"x": {"datum": {"year": 2023, "month": 5, "date": 3, "hours": 6, "minutes": 22, "seconds": 30, "utc": true}, "type": "temporal", "axis": null},
"y": {"datum": 29912.5, "type": "quantitative", "axis": null}
}
},
{
"data": {"values": [{}]},
"mark": {"type": "point", "shape": "M-1,-0.55L1,-0.55L0,0.55Z", "size": 81, "filled": true, "color": "#7A8A9A", "opacity": 1, "yOffset": 3},
"encoding": {
"x": {"datum": {"year": 2023, "month": 5, "date": 6, "hours": 11, "minutes": 30, "utc": true}, "type": "temporal", "axis": null},
"y": {"datum": 29912.5, "type": "quantitative", "axis": null}
}
},
{
"data": {"values": [{}]},
"mark": {"type": "rect", "color": "#FFFFFF", "xOffset": 1.5, "x2Offset": 47.5, "yOffset": -4.4, "y2Offset": 4.6},
"encoding": {
"x": {"datum": {"year": 2023, "month": 5, "date": 7, "hours": 12, "minutes": 0, "utc": true}, "type": "temporal", "axis": null},
"x2": {"datum": {"year": 2023, "month": 5, "date": 7, "hours": 12, "minutes": 0, "utc": true}},
"y": {"datum": 29296.66, "type": "quantitative", "axis": null},
"y2": {"datum": 29296.66}
}
},
{
"data": {"values": [{}]},
"mark": {"type": "text", "text": "29296.66", "color": "#15133B", "font": "Liberation Sans", "fontSize": 9.3, "align": "left", "baseline": "middle", "dx": 5.5},
"encoding": {
"x": {"datum": {"year": 2023, "month": 5, "date": 7, "hours": 12, "minutes": 0, "utc": true}, "type": "temporal", "axis": null},
"y": {"datum": 29296.66, "type": "quantitative", "axis": null}
}
}
]
}
